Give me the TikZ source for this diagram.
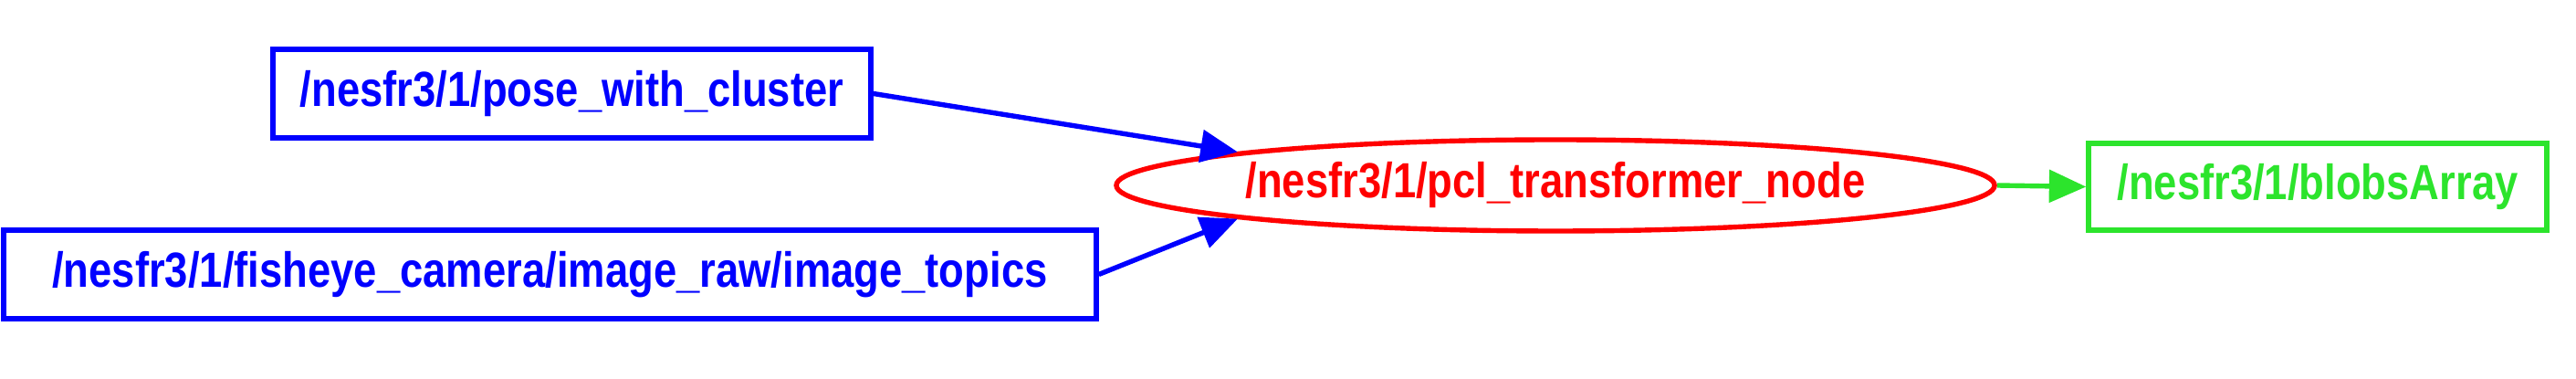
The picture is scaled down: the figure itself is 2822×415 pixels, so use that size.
\documentclass[tikz,border=0pt]{standalone}
\usepackage{fontspec}
\setmainfont{Liberation Sans}
\newfontfamily\labelfont[FakeStretch=0.84]{Liberation Sans}
\usepackage{tikz}
\usetikzlibrary{arrows.meta,shapes.geometric}
\definecolor{topicgreen}{RGB}{44,228,44}

\begin{document}
\begin{tikzpicture}[x=0.37pt,y=-0.37pt,
  topic/.style={draw,line width=2pt,rectangle,inner sep=0pt,minimum height=35.9pt,font=\labelfont\fontsize{20}{22}\selectfont\bfseries},
  rosnode/.style={draw,line width=2pt,ellipse,inner sep=0pt,minimum width=356pt,minimum height=37pt,font=\labelfont\fontsize{20}{22}\selectfont\bfseries},
  link/.style={line width=2pt,-{Triangle[length=15pt,width=13pt]}}]
\useasboundingbox (0,0) rectangle (2822,415);
\node[topic,blue,minimum width=242.4pt] (pose) at (626.5,102.5) {/nesfr3/1/pose\_with\_cluster};
\node[topic,blue,minimum width=442.9pt] (fisheye) at (602.5,300.5) {/nesfr3/1/fisheye\_camera/image\_raw/image\_topics};
\node[rosnode,red] (pcl) at (1704,203) {/nesfr3/1/pcl\_transformer\_node};
\node[topic,topicgreen,minimum width=185.7pt,minimum height=35.2pt] (blobs) at (2539,204.5) {/nesfr3/1/blobsArray};
\draw[link,blue] (pose.east) -- (pcl.174);
\draw[link,blue] (fisheye.east) -- (pcl.186);
\draw[link,topicgreen] (pcl.east) -- (blobs.west);
\end{tikzpicture}
\end{document}
